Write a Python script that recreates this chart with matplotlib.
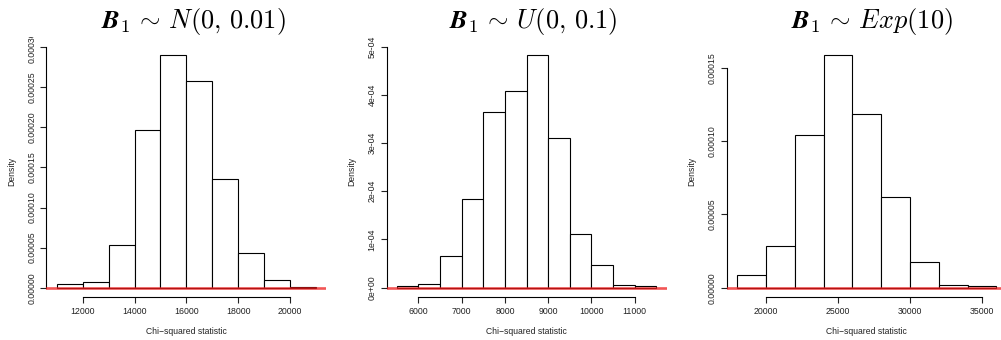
import numpy as np
import matplotlib
matplotlib.use('Agg')
from matplotlib import pyplot as plt
from matplotlib.patches import Rectangle

plt.rcParams['font.family'] = ['Liberation Sans', 'DejaVu Sans']
plt.rcParams['mathtext.fontset'] = 'cm'

# histogram bin edges and densities
normal_breaks = [11000, 12000, 13000, 14000, 15000, 16000, 17000, 18000, 19000, 20000, 21000]
normal_density = [0.0000050, 0.0000067, 0.0000529, 0.000197, 0.000290, 0.000258,
                  0.000136, 0.0000429, 0.0000100, 0.0000013]
normal_yticks = [0, 0.00005, 0.00010, 0.00015, 0.00020, 0.00025, 0.00030]
normal_ylabels = ['0.00000', '0.00005', '0.00010', '0.00015', '0.00020', '0.00025', '0.00030']
normal_xticks = [12000, 14000, 16000, 18000, 20000]

unif_breaks = [5500, 6000, 6500, 7000, 7500, 8000, 8500, 9000, 9500, 10000, 10500, 11000, 11500]
unif_density = [0.0000028, 0.0000076, 0.0000655, 0.000183, 0.000364, 0.000408,
                0.000482, 0.000311, 0.000111, 0.0000476, 0.0000055, 0.0000041]
unif_yticks = [0, 0.0001, 0.0002, 0.0003, 0.0004, 0.0005]
unif_ylabels = ['0e+00', '1e-04', '2e-04', '3e-04', '4e-04', '5e-04']
unif_xticks = [6000, 7000, 8000, 9000, 10000, 11000]

exp_breaks = [18000, 20000, 22000, 24000, 26000, 28000, 30000, 32000, 34000, 36000]
exp_density = [0.0000084, 0.0000285, 0.0001042, 0.0001587, 0.0001188, 0.0000616,
               0.0000173, 0.0000021, 0.0000011]
exp_yticks = [0, 0.00005, 0.00010, 0.00015]
exp_ylabels = ['0.00000', '0.00005', '0.00010', '0.00015']
exp_xticks = [20000, 25000, 30000, 35000]

titles = [r'$\mathbfit{B}_1 \,\sim\, N(0,\,0.01)$',
          r'$\mathbfit{B}_1 \,\sim\, U(0,\,0.1)$',
          r'$\mathbfit{B}_1 \,\sim\, Exp(10)$']

W, H = 1001, 340
fig = plt.figure(figsize=(W / 100, H / 100), dpi=100)


def draw_panel(left_px, breaks, density, yticks, ylabels, xticks, title, title_x):
    ax = fig.add_axes([left_px / W, (H - 297) / H, 280 / W, 251 / H])
    ax.bar(breaks[:-1], density, width=np.diff(breaks), align='edge',
           facecolor='white', edgecolor='black', linewidth=0.8)
    # R style 4% padding
    pad = 0.04 * (breaks[-1] - breaks[0])
    ax.set_xlim(breaks[0] - pad, breaks[-1] + pad)
    top = max(density)
    ax.set_ylim(-0.04 * top, 1.04 * top)
    ax.axhline(0, color='#ee1c1c', lw=1.9, alpha=0.75, zorder=5)

    for s in ['top', 'right']:
        ax.spines[s].set_visible(False)
    ax.spines['left'].set_bounds(yticks[0], yticks[-1])
    ax.spines['bottom'].set_bounds(xticks[0], xticks[-1])
    ax.spines['left'].set_linewidth(0.8)
    ax.spines['bottom'].set_linewidth(0.8)

    ax.set_xticks(xticks, [str(x) for x in xticks])
    ax.set_yticks(yticks, ylabels)
    ax.tick_params(length=4, width=0.8, labelsize=6.3, pad=3, colors='#222222')
    for lab in ax.get_yticklabels():
        lab.set_rotation(90)
        lab.set_va('center')

    ax.text(-35 / 280, 0.5, 'Density', rotation=90, fontsize=6.2, color='#222222',
            ha='center', va='center', transform=ax.transAxes)
    ax.text(0.5, -34.7 / 251, 'Chi\u2212squared statistic', fontsize=6.2, color='#222222',
            ha='center', va='center', transform=ax.transAxes)

    fig.text(title_x / W, 1 - 21.7 / H, title, fontsize=19, ha='center', va='center')
    return ax


draw_panel(46.4, normal_breaks, normal_density, normal_yticks, normal_ylabels,
           normal_xticks, titles[0], 193)
draw_panel(386.5, unif_breaks, unif_density, unif_yticks, unif_ylabels,
           unif_xticks, titles[1], 533)
draw_panel(726.8, exp_breaks, exp_density, exp_yticks, exp_ylabels,
           exp_xticks, titles[2], 872)

# the top tick label of the first panel is cut off in the original
fig.add_artist(Rectangle((25 / W, (H - 37) / H), 17 / W, 37 / H,
                         transform=fig.transFigure, facecolor='white',
                         edgecolor='none', zorder=10))

fig.savefig('out.png', dpi=100)
plt.close(fig)
